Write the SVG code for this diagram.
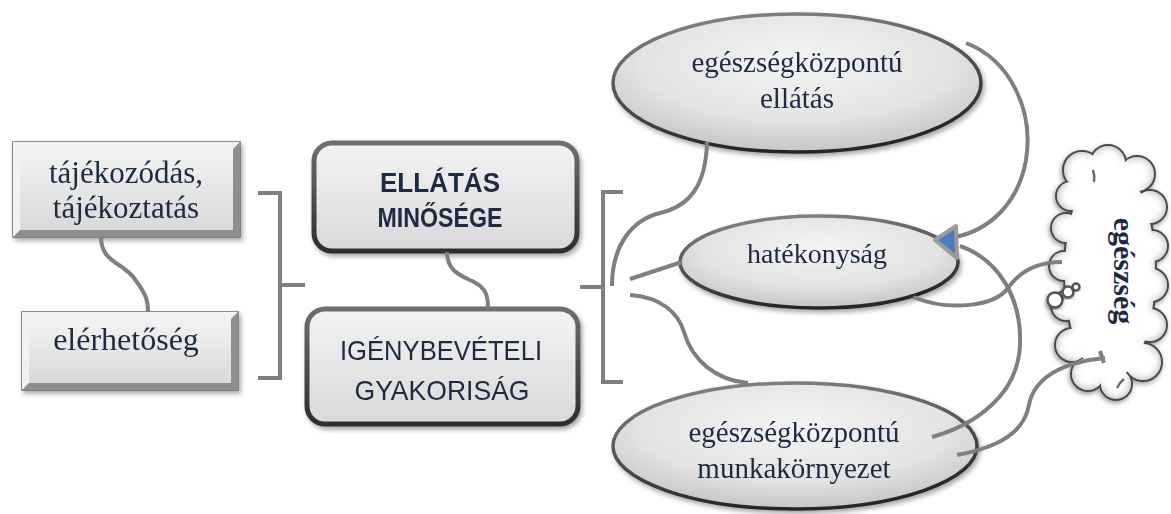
<svg xmlns="http://www.w3.org/2000/svg" width="1171" height="514" viewBox="0 0 1171 514">
  <defs>
    <filter id="shadow" x="-10%" y="-10%" width="125%" height="130%">
      <feDropShadow dx="2" dy="3" stdDeviation="2.5" flood-color="#000" flood-opacity="0.35"/>
    </filter>
    <filter id="cloudShadow" x="-20%" y="-10%" width="140%" height="125%">
      <feDropShadow dx="-1" dy="2" stdDeviation="2.5" flood-color="#000" flood-opacity="0.4"/>
    </filter>
    <!-- soft shading along the inside of the cloud outline -->
    <filter id="innerShade" x="-15%" y="-10%" width="130%" height="120%">
      <feComponentTransfer in="SourceAlpha" result="inv">
        <feFuncA type="table" tableValues="1 0"/>
      </feComponentTransfer>
      <feGaussianBlur in="inv" stdDeviation="4" result="blur"/>
      <feFlood flood-color="#5a5a5a" flood-opacity="0.75" result="col"/>
      <feComposite in="col" in2="blur" operator="in" result="shade"/>
      <feComposite in="shade" in2="SourceAlpha" operator="in" result="inner"/>
      <feMerge>
        <feMergeNode in="SourceGraphic"/>
        <feMergeNode in="inner"/>
      </feMerge>
    </filter>
    <radialGradient id="ellFill" cx="0.5" cy="0.35" r="0.65">
      <stop offset="0" stop-color="#f4f4f4"/>
      <stop offset="0.65" stop-color="#e3e3e3"/>
      <stop offset="1" stop-color="#c6c6c6"/>
    </radialGradient>
    <linearGradient id="ellStroke" x1="0" y1="0" x2="0.3" y2="1">
      <stop offset="0" stop-color="#8a8a8a"/>
      <stop offset="1" stop-color="#262626"/>
    </linearGradient>
    <linearGradient id="boxFill" x1="0" y1="0" x2="0" y2="1">
      <stop offset="0" stop-color="#f3f3f3"/>
      <stop offset="1" stop-color="#d9d9d9"/>
    </linearGradient>
    <linearGradient id="roundStroke" x1="0" y1="0" x2="0" y2="1">
      <stop offset="0" stop-color="#6e6e6e"/>
      <stop offset="1" stop-color="#2d2d2d"/>
    </linearGradient>
    <!-- cloud body built from overlapping circles -->
    <g id="cloudShape">
      <ellipse cx="1110" cy="272" rx="45" ry="108"/>
      <circle cx="1082" cy="170" r="18"/>
      <circle cx="1108" cy="163" r="17"/>
      <circle cx="1137" cy="174" r="17"/>
      <circle cx="1150" cy="207" r="16"/>
      <circle cx="1152" cy="246" r="15"/>
      <circle cx="1151" cy="285" r="16"/>
      <circle cx="1150" cy="325" r="16"/>
      <circle cx="1143" cy="362" r="18"/>
      <circle cx="1116" cy="384" r="15"/>
      <circle cx="1088" cy="374" r="16"/>
      <circle cx="1072" cy="345" r="16"/>
      <circle cx="1066" cy="306" r="14"/>
      <circle cx="1064" cy="266" r="14"/>
      <circle cx="1066" cy="228" r="14"/>
      <circle cx="1071" cy="196" r="14"/>
    </g>
  </defs>
  <style>
    .serif { font-family: "Liberation Serif", "Times New Roman", serif; fill: #1d2942; }
    .sans { font-family: "Liberation Sans", Arial, sans-serif; fill: #1d2942; }
    .bv-base { fill: #d6d6d6; stroke: #6a6a6a; stroke-width: 1.5; }
    .bv-light { fill: #f2f2f2; }
    .bv-dark { fill: #8e8e8e; }
    .bv-face { fill: url(#boxFill); }
    .round { fill: url(#boxFill); stroke: url(#roundStroke); stroke-width: 5; }
    .ell { fill: url(#ellFill); stroke: url(#ellStroke); stroke-width: 3.5; }
    .conn { fill: none; stroke: #7f7f7f; stroke-width: 4; }
    .cloud-edge { fill: #fff; stroke: #4a4a4a; stroke-width: 4; }
    .cloud-fill { fill: #fff; stroke: none; }
    .bubble { fill: #fff; stroke: #555; stroke-width: 2.5; }
  </style>

  <rect width="1171" height="514" fill="#fff"/>

  <!-- left bevelled boxes -->
  <g id="node-tajekozodas" filter="url(#shadow)">
    <rect class="bv-base" x="13" y="142" width="227" height="95"/>
    <path class="bv-light" d="M13 142 H240 L233 149 H20 V230 L13 237 Z"/>
    <path class="bv-dark" d="M240 237 H13 L20 230 H233 V149 L240 142 Z"/>
    <rect class="bv-face" x="20" y="149" width="213" height="81"/>
    <text class="serif" x="126" y="183" font-size="31" text-anchor="middle">tájékozódás,</text>
    <text class="serif" x="126" y="218" font-size="31" text-anchor="middle">tájékoztatás</text>
  </g>
  <g id="node-elerhetoseg" filter="url(#shadow)">
    <rect class="bv-base" x="22" y="312" width="216" height="78"/>
    <path class="bv-light" d="M22 312 H238 L231 319 H29 V383 L22 390 Z"/>
    <path class="bv-dark" d="M238 390 H22 L29 383 H231 V319 L238 312 Z"/>
    <rect class="bv-face" x="29" y="319" width="202" height="64"/>
    <text class="serif" x="126" y="350" font-size="32" text-anchor="middle">elérhetőség</text>
  </g>

  <!-- central rounded boxes -->
  <g id="node-ellatas-minosege" filter="url(#shadow)">
    <rect class="round" x="314" y="143" width="263" height="108" rx="18"/>
    <text class="sans" x="440" y="192" font-size="28" font-weight="bold" text-anchor="middle" textLength="120" lengthAdjust="spacingAndGlyphs">ELLÁTÁS</text>
    <text class="sans" x="440" y="227" font-size="28" font-weight="bold" text-anchor="middle" textLength="125" lengthAdjust="spacingAndGlyphs">MINŐSÉGE</text>
  </g>
  <g id="node-igenybeveteli" filter="url(#shadow)">
    <rect class="round" x="307" y="309" width="271" height="115" rx="18"/>
    <text class="sans" x="441" y="360" font-size="28" text-anchor="middle" textLength="202" lengthAdjust="spacingAndGlyphs">IGÉNYBEVÉTELI</text>
    <text class="sans" x="442" y="400" font-size="28" text-anchor="middle" textLength="175" lengthAdjust="spacingAndGlyphs">GYAKORISÁG</text>
  </g>

  <!-- ellipses -->
  <g id="node-egeszsegkozpontu-ellatas" filter="url(#shadow)">
    <ellipse class="ell" cx="797" cy="83" rx="184" ry="69"/>
    <text class="serif" x="797" y="72" font-size="29" text-anchor="middle">egészségközpontú</text>
    <text class="serif" x="797" y="108" font-size="29" text-anchor="middle">ellátás</text>
  </g>
  <g id="node-hatekonysag" filter="url(#shadow)">
    <ellipse class="ell" cx="819" cy="262" rx="139" ry="46"/>
    <text class="serif" x="817" y="263" font-size="28" text-anchor="middle">hatékonyság</text>
  </g>
  <g id="node-munkakornyezet" filter="url(#shadow)">
    <ellipse class="ell" cx="795" cy="446" rx="182" ry="63"/>
    <text class="serif" x="794" y="442" font-size="29" text-anchor="middle">egészségközpontú</text>
    <text class="serif" x="794" y="478" font-size="29" text-anchor="middle">munkakörnyezet</text>
  </g>

  <!-- thought cloud -->
  <g id="node-egeszseg">
    <g filter="url(#cloudShadow)">
      <use href="#cloudShape" class="cloud-edge"/>
    </g>
    <g filter="url(#innerShade)">
      <use href="#cloudShape" class="cloud-fill"/>
    </g>
    <g fill="none" stroke="#6a6a6a" stroke-width="2.5">
      <path d="M1093 170 Q1095 176 1094 182"/>
      <path d="M1117 388 Q1120 382 1124 379"/>
    </g>
    <circle class="bubble" cx="1055" cy="300" r="7.5" filter="url(#cloudShadow)"/>
    <circle class="bubble" cx="1068" cy="292" r="5.5" filter="url(#cloudShadow)"/>
    <circle class="bubble" cx="1076" cy="287" r="3.5" filter="url(#cloudShadow)"/>
    <text class="serif" transform="translate(1114 271) rotate(90)" x="0" y="0" font-size="30" font-weight="bold" text-anchor="middle">egészség</text>
  </g>

  <!-- connectors -->
  <g id="connectors">
    <!-- left pair -->
    <path class="conn" d="M101 237 C101 262 122 262 134 278 C146 294 148 300 148 312"/>
    <path class="conn" d="M258 193 H280 V378 H258 M280 285 H305"/>
    <!-- centre pair -->
    <path class="conn" d="M447 252 C447 272 462 276 474 282 C486 288 488 296 488 308"/>
    <!-- right bracket -->
    <path class="conn" d="M623 192 H603 V382 H623 M580 287 H603"/>
    <!-- bracket to ellipses -->
    <path class="conn" d="M612 286 C612 245 632 220 660 213 C690 206 706 185 707 142"/>
    <path class="conn" d="M630 279 L682 262"/>
    <path class="conn" d="M630 295 C660 297 678 312 684 332 C692 360 715 380 748 383"/>
    <!-- loops on the right -->
    <path class="conn" d="M966 43 C1010 60 1034 110 1026 160 C1018 205 988 230 956 237"/>
    <path class="conn" d="M960 246 C1000 260 1022 300 1020 345 C1018 395 975 425 932 437"/>
    <path class="conn" d="M913 297 C950 312 995 306 1008 288 C1022 268 1042 262 1062 262"/>
    <path class="conn" d="M957 455 C1000 447 1024 432 1029 405 C1034 378 1062 362 1105 358 M1100 351 L1104 363"/>
    <!-- arrowhead -->
    <polygon points="935,240 956,226 957,258" fill="#4a7cc0" stroke="#9a9a9a" stroke-width="4" stroke-linejoin="round"/>
  </g>
</svg>
